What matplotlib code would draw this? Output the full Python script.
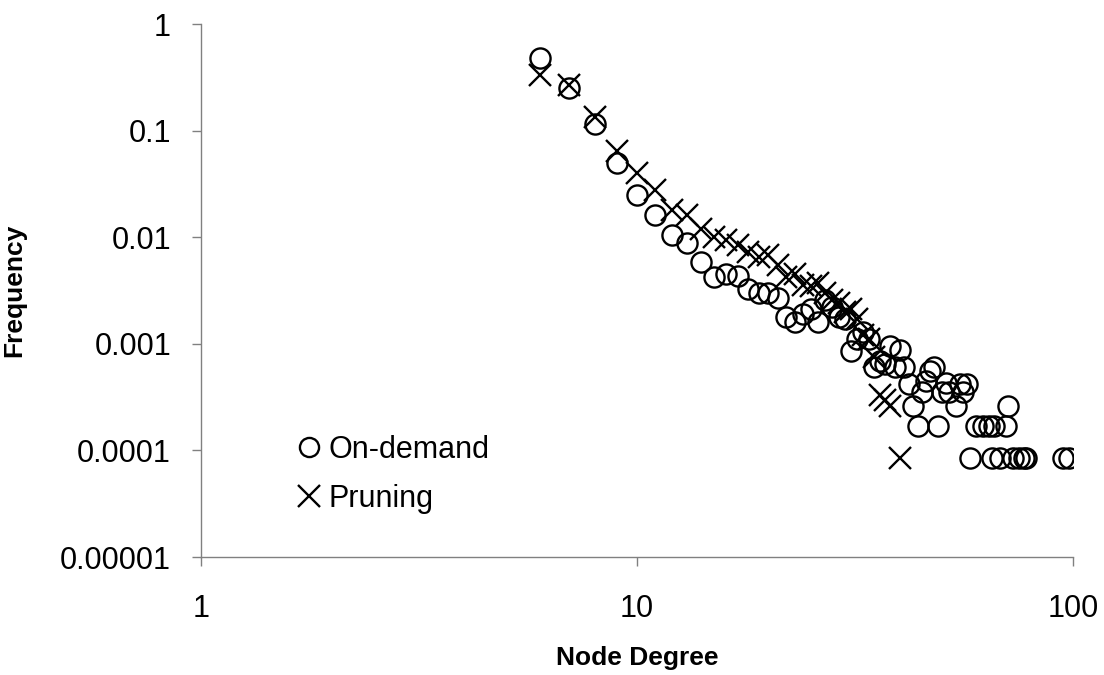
import numpy as np
import matplotlib.pyplot as plt

plt.rcParams['font.family'] = ['Liberation Sans', 'DejaVu Sans']

# node degree / frequency for the on-demand overlay
ondemand_deg = [6, 7, 8, 9, 10, 11, 12, 13, 14, 15, 16, 17, 18, 19, 20, 21, 22, 23,
                24, 25, 26, 27, 28, 29, 30, 31, 32, 33, 34, 35, 36, 37, 38, 39, 40,
                41, 42, 43, 44, 45, 46, 47, 48, 49, 50, 51, 52, 54, 55, 56, 57, 58,
                60, 62, 64, 65, 66, 68, 70, 71, 73, 75, 77, 78, 95, 98]
ondemand_freq = [0.48, 0.25, 0.115, 0.05, 0.025, 0.016, 0.0105, 0.0088, 0.0058,
                 0.0042, 0.0045, 0.0043, 0.0033, 0.003, 0.003, 0.0027, 0.0018,
                 0.0016, 0.0019, 0.0021, 0.0016, 0.0026, 0.0022, 0.0018, 0.0017,
                 0.00085, 0.0011, 0.0013, 0.0011, 0.0006, 0.00069, 0.00065, 0.00095,
                 0.0006, 0.00088, 0.0006, 0.00042, 0.00026, 0.00017, 0.00035,
                 0.00045, 0.00055, 0.0006, 0.00017, 0.00035, 0.00043, 0.00035,
                 0.00026, 0.00042, 0.00035, 0.00042, 0.000085, 0.00017, 0.00017,
                 0.00017, 0.000085, 0.00017, 0.000085, 0.00017, 0.00026, 0.000085,
                 0.000085, 0.000085, 0.000085, 0.000085, 0.000085]

# node degree / frequency for the pruning overlay
pruning_deg = [6, 7, 8, 9, 10, 11, 12, 13, 14, 15, 16, 17, 18, 19, 20, 21, 22, 23,
               24, 25, 26, 27, 28, 29, 30, 31, 32, 33, 34, 35, 36, 37, 38, 40]
pruning_freq = [0.33, 0.27, 0.135, 0.065, 0.04, 0.028, 0.018, 0.016, 0.012, 0.01,
                0.0095, 0.0085, 0.0072, 0.0065, 0.0068, 0.0055, 0.0042, 0.0045,
                0.0036, 0.0035, 0.0037, 0.003, 0.0026, 0.0024, 0.002, 0.0021,
                0.0017, 0.0012, 0.0011, 0.00075, 0.00033, 0.0003, 0.00026, 0.000085]

fig = plt.figure(figsize=(11.04, 6.75), dpi=100)
# axes box: x from 1 to 100, y from 1e-5 to 1
ax = fig.add_axes([0.182, 0.1748, 0.790, 0.7896])

ax.plot(ondemand_deg, ondemand_freq, linestyle='none', marker='o', markersize=14.5,
        markerfacecolor='none', markeredgecolor='black', markeredgewidth=1.7,
        label='On-demand')
ax.plot(pruning_deg, pruning_freq, linestyle='none', marker='x', markersize=16,
        markeredgecolor='black', markeredgewidth=1.7, label='Pruning')

ax.set_xscale('log')
ax.set_yscale('log')
ax.set_xlim(1, 100)
ax.set_ylim(1e-5, 1)

ax.set_xticks([1, 10, 100])
ax.set_xticklabels(['1', '10', '100'])
ax.set_yticks([1, 0.1, 0.01, 0.001, 0.0001, 0.00001])
ax.set_yticklabels(['1', '0.1', '0.01', '0.001', '0.0001', '0.00001'])
ax.minorticks_off()

for side in ['top', 'right']:
    ax.spines[side].set_visible(False)
for side in ['left', 'bottom']:
    ax.spines[side].set_color('#808080')
    ax.spines[side].set_linewidth(1.0)
ax.tick_params(axis='both', direction='out', length=6.5, width=1.0,
               color='#808080', labelsize=22)
ax.tick_params(axis='y', pad=15)
ax.tick_params(axis='x', pad=20)

ax.set_xlabel('Node Degree', fontsize=19, fontweight='bold', labelpad=16)
ax.set_ylabel('Frequency', fontsize=19, fontweight='bold', labelpad=24)

leg = ax.legend(loc='lower left', bbox_to_anchor=(0.08, 0.03), frameon=False,
                fontsize=22, handlelength=0.7, handletextpad=0.3,
                labelspacing=0.62, markerscale=0.95)

fig.savefig('out.png', dpi=100)
